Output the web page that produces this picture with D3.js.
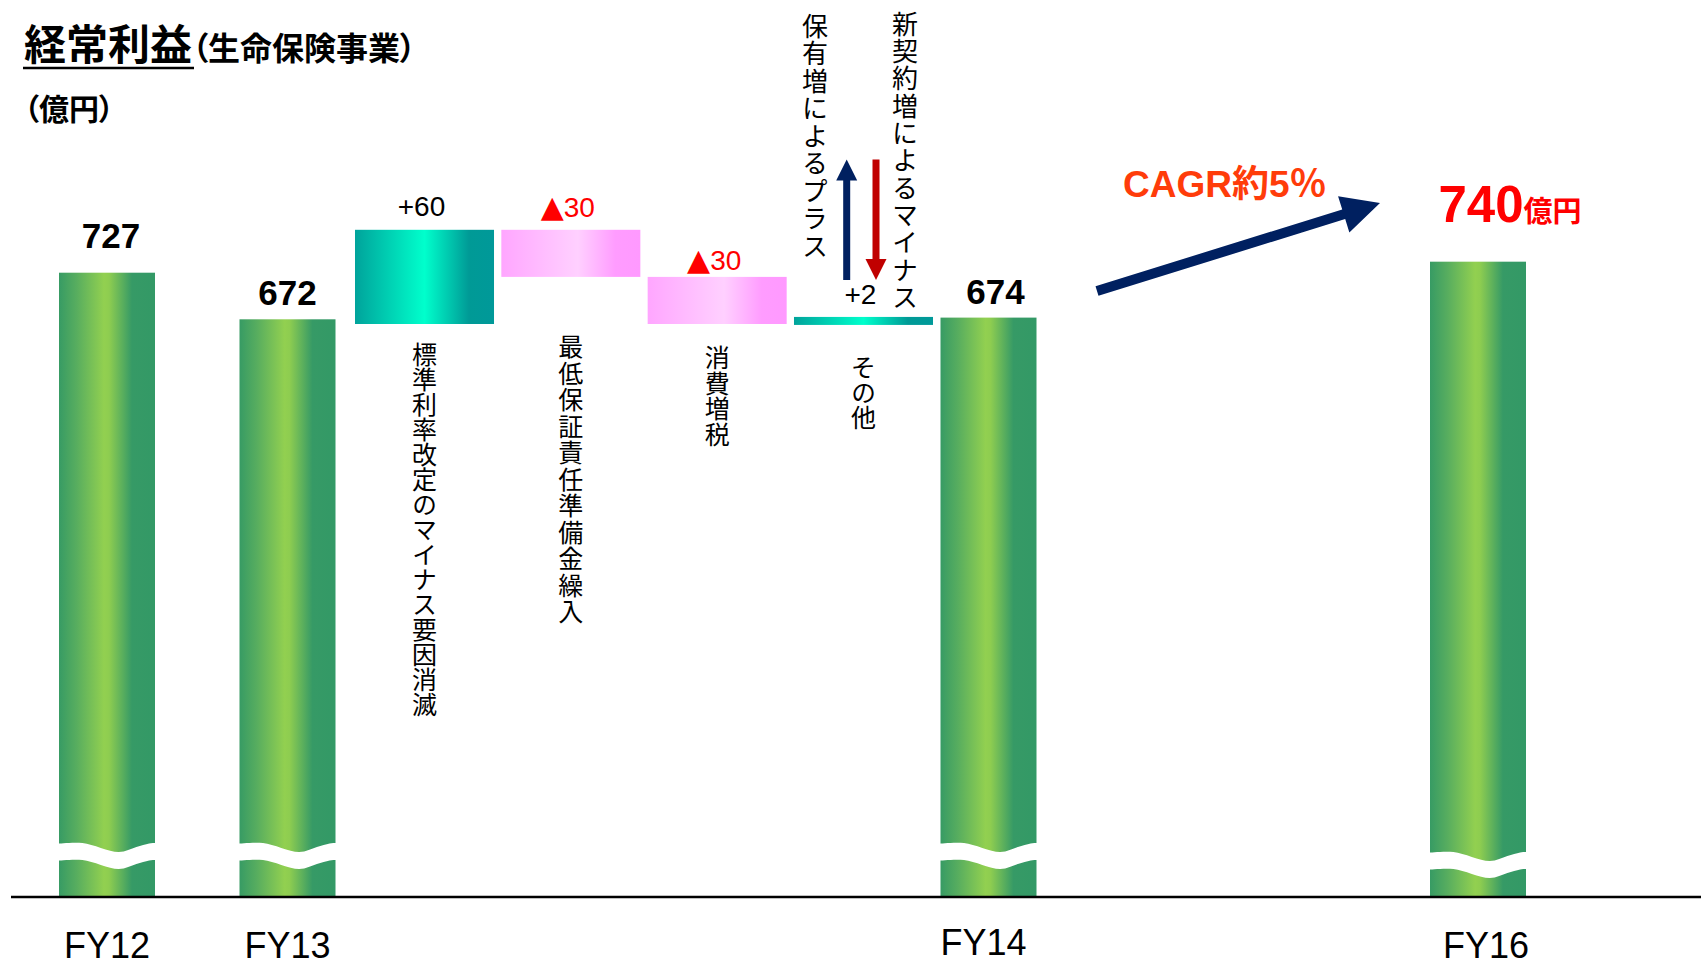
<!DOCTYPE html>
<html>
<head>
<meta charset="utf-8">
<script src="https://cdn.jsdelivr.net/npm/d3@7"></script>
<style>
  html, body { margin: 0; padding: 0; background: #ffffff; }
  svg { display: block; }
  .latin { font-family: "Liberation Sans", Arial, "Noto Sans CJK JP", sans-serif; }
  .cjk { font-family: "Noto Sans CJK JP", "Liberation Sans", sans-serif; }
</style>
</head>
<body>
<svg id="chart" width="1701" height="969"></svg>
<script>
// ---------- data ----------
const years = ["FY12", "FY13", "FY14", "FY16"];
const profits = [727, 672, 674, 740];

const stepNames = ["標準利率改定のマイナス要因消滅", "最低保証責任準備金繰入", "消費増税", "その他"];
const stepDeltas = [60, -30, -30, 2];

const titleMain = "経常利益";
const titleSub = "（生命保険事業）";
const unitText = "（億円）";
const unitSuffix = "億円";
const cagrText = "CAGR約5％";
const ownedNote = "保有増によるプラス";
const newNote = "新契約増によるマイナス";

// ---------- layout ----------
const W = 1701, H = 969;
const baseY = 897;                 // axis line
const barW = 96;
const barCenters = [107, 287.5, 988.5, 1478];
const valueLift = [25, 14, 14, 40];  // gap between bar top and its value label
const valueShift = [4, 0, 7, 32];
const yearShift = [0, 0, -5, 8];
const yearBase = [958, 958, 955, 958];
const breakTop = [843, 843, 843, 852];
const stepLabelTop = [342, 334, 345, 355];
const stepLabelSpacing = [0, 1.5, 0.5, 0];
const stepValueLift = [14, 13, 7, 13];

const svg = d3.select("#chart");
const defs = svg.append("defs");

function hGradient(id, stops) {
  const g = defs.append("linearGradient").attr("id", id)
    .attr("x1", "0%").attr("x2", "100%").attr("y1", "0%").attr("y2", "0%");
  stops.forEach(([o, c]) => g.append("stop").attr("offset", o).attr("stop-color", c));
}
hGradient("gGreen", [[0, "#379b64"], [0.18, "#57ad5f"], [0.47, "#92d050"], [0.52, "#8ecd50"], [0.76, "#369a66"], [1, "#339966"]]);
hGradient("gTeal", [[0, "#00a39b"], [0.5, "#00ffcc"], [0.82, "#009a96"], [1, "#009999"]]);
hGradient("gPink", [[0, "#ffa6ff"], [0.55, "#ffd0ff"], [0.82, "#ff9cff"], [1, "#ff99ff"]]);

// ---------- scales ----------
const x = d3.scaleOrdinal().domain(years).range(barCenters);
const y = d3.scaleLinear().domain([672, 727]).range([319.3, 272.7]);

const xStep = d3.scaleBand().domain(stepNames).range([355, 933]).paddingInner(0.05);
const yStep = d3.scaleLinear().domain([672, 732]).range([324, 229.8]);

const mainData = years.map((yr, i) => ({ year: yr, value: profits[i], i }));

// ---------- main bars ----------
const bars = svg.append("g");
bars.selectAll("rect").data(mainData).join("rect")
  .attr("x", d => x(d.year) - barW / 2)
  .attr("y", d => y(d.value))
  .attr("width", barW)
  .attr("height", d => baseY - y(d.value))
  .attr("fill", "url(#gGreen)");

// broken-axis wave across each bar
const waveShape = [[0, 0.6], [0.25, 0], [0.62, 9], [0.8, 4], [0.93, 0.4], [1, 0]];
const waveThick = 17;
const wave = d3.area()
  .x(p => p[0]).y0(p => p[1]).y1(p => p[1] + waveThick)
  .curve(d3.curveCatmullRom);
bars.selectAll("path.wave").data(mainData).join("path")
  .attr("class", "wave")
  .attr("fill", "#ffffff")
  .attr("d", d => {
    const x0 = x(d.year) - barW / 2 - 1, w = barW + 2;
    return wave(waveShape.map(([fx, dy]) => [x0 + fx * w, breakTop[d.i] + dy]));
  });

// value labels
mainData.forEach(d => {
  const last = d.i === years.length - 1;
  const t = svg.append("text").attr("class", "latin")
    .attr("x", x(d.year) + valueShift[d.i])
    .attr("y", y(d.value) - valueLift[d.i])
    .attr("text-anchor", "middle")
    .attr("font-weight", "bold")
    .attr("fill", last ? "#ff0000" : "#000000");
  if (last) {
    t.append("tspan").attr("font-size", 51).text(d.value);
    t.append("tspan").attr("font-size", 29).attr("font-family", "Noto Sans CJK JP").text(unitSuffix);
  } else {
    t.attr("font-size", 35).text(d.value);
  }
});

// ---------- waterfall steps ----------
let running = profits[1];
const steps = stepNames.map((name, i) => {
  const from = running, to = running + stepDeltas[i];
  running = to;
  return { name, delta: stepDeltas[i], from, to, i };
});
const minStepH = 8;
steps.forEach(s => {
  let top = yStep(Math.max(s.from, s.to));
  let bot = yStep(Math.min(s.from, s.to));
  if (bot - top < minStepH) {
    const mid = (top + bot) / 2;
    top = mid - minStepH / 2 - 1.5; bot = top + minStepH;
  }
  s.top = top; s.bot = bot;
});

svg.append("g").selectAll("rect").data(steps).join("rect")
  .attr("x", d => xStep(d.name))
  .attr("y", d => d.top)
  .attr("width", xStep.bandwidth())
  .attr("height", d => d.bot - d.top)
  .attr("fill", d => d.delta > 0 ? "url(#gTeal)" : "url(#gPink)");

const stepVals = svg.append("g").selectAll("text").data(steps).join("text")
  .attr("class", "latin")
  .attr("x", d => xStep(d.name) + xStep.bandwidth() / 2 - 3)
  .attr("y", d => d.top - stepValueLift[d.i])
  .attr("text-anchor", "middle")
  .attr("font-size", 28)
  .attr("fill", d => d.delta > 0 ? "#000000" : "#ff0000");
stepVals.each(function (d) {
  const t = d3.select(this);
  if (d.delta > 0) {
    t.text("+" + d.delta);
  } else {
    t.append("tspan").attr("font-size", 30).attr("font-family", "DejaVu Sans").text("▲");
    t.append("tspan").text(-d.delta);
  }
});

// vertical captions under the steps
svg.append("g").selectAll("text").data(steps).join("text")
  .attr("class", "cjk")
  .attr("x", d => xStep(d.name) + xStep.bandwidth() / 2)
  .attr("y", d => stepLabelTop[d.i])
  .attr("font-size", 25)
  .style("writing-mode", "vertical-rl")
  .style("letter-spacing", d => stepLabelSpacing[d.i] + "px")
  .attr("fill", "#000")
  .text(d => d.name);

// ---------- notes for the "other" step ----------
function arrowPath(x1, y1, x2, y2, shaftW, headLen, headHalf) {
  const dx = x2 - x1, dy = y2 - y1, L = Math.hypot(dx, dy);
  const ux = dx / L, uy = dy / L, nx = -uy, ny = ux;
  const bx = x2 - ux * headLen, by = y2 - uy * headLen;
  const p = d3.path();
  p.moveTo(x1 + nx * shaftW / 2, y1 + ny * shaftW / 2);
  p.lineTo(bx + nx * shaftW / 2, by + ny * shaftW / 2);
  p.lineTo(bx + nx * headHalf, by + ny * headHalf);
  p.lineTo(x2, y2);
  p.lineTo(bx - nx * headHalf, by - ny * headHalf);
  p.lineTo(bx - nx * shaftW / 2, by - ny * shaftW / 2);
  p.lineTo(x1 - nx * shaftW / 2, y1 - ny * shaftW / 2);
  p.closePath();
  return p.toString();
}

svg.append("path").attr("fill", "#002060").attr("d", arrowPath(846.7, 280, 846.7, 159.5, 7, 21, 10.5));
svg.append("path").attr("fill", "#c00000").attr("d", arrowPath(876, 159.5, 876, 280, 7, 21, 10.5));

svg.append("text").attr("class", "cjk")
  .attr("x", 815).attr("y", 13).attr("font-size", 26)
  .style("writing-mode", "vertical-rl").style("letter-spacing", "1.5px")
  .text(ownedNote);
svg.append("text").attr("class", "cjk")
  .attr("x", 905).attr("y", 11).attr("font-size", 26)
  .style("writing-mode", "vertical-rl").style("letter-spacing", "1.3px")
  .text(newNote);

// ---------- growth arrow ----------
svg.append("path").attr("fill", "#002060")
  .attr("d", arrowPath(1097, 291, 1380, 203, 10, 38, 19));
svg.append("text").attr("class", "latin")
  .attr("x", 1123).attr("y", 196.5)
  .attr("font-size", 37).attr("font-weight", "bold")
  .attr("fill", "#ff3c0a")
  .text(cagrText);

// ---------- axis ----------
svg.append("line")
  .attr("x1", 11).attr("x2", W).attr("y1", baseY).attr("y2", baseY)
  .attr("stroke", "#000").attr("stroke-width", 2.5);

svg.append("g").selectAll("text").data(mainData).join("text")
  .attr("class", "latin")
  .attr("x", d => x(d.year) + yearShift[d.i])
  .attr("y", d => yearBase[d.i])
  .attr("text-anchor", "middle")
  .attr("font-size", 36)
  .attr("fill", "#000")
  .text(d => d.year);

// ---------- titles ----------
const title = svg.append("text").attr("class", "cjk")
  .attr("x", 24).attr("y", 60).attr("font-weight", "bold").attr("fill", "#000")
  .style("font-feature-settings", "'palt'");
title.append("tspan").attr("font-size", 42).text(titleMain);
title.append("tspan").attr("font-size", 32).text(titleSub);

svg.append("line")
  .attr("x1", 23).attr("x2", 194).attr("y1", 68).attr("y2", 68)
  .attr("stroke", "#000").attr("stroke-width", 2.5);

svg.append("text").attr("class", "cjk")
  .attr("x", 24).attr("y", 120).attr("font-weight", "bold").attr("font-size", 30)
  .style("font-feature-settings", "'palt'")
  .text(unitText);
</script>
</body>
</html>
